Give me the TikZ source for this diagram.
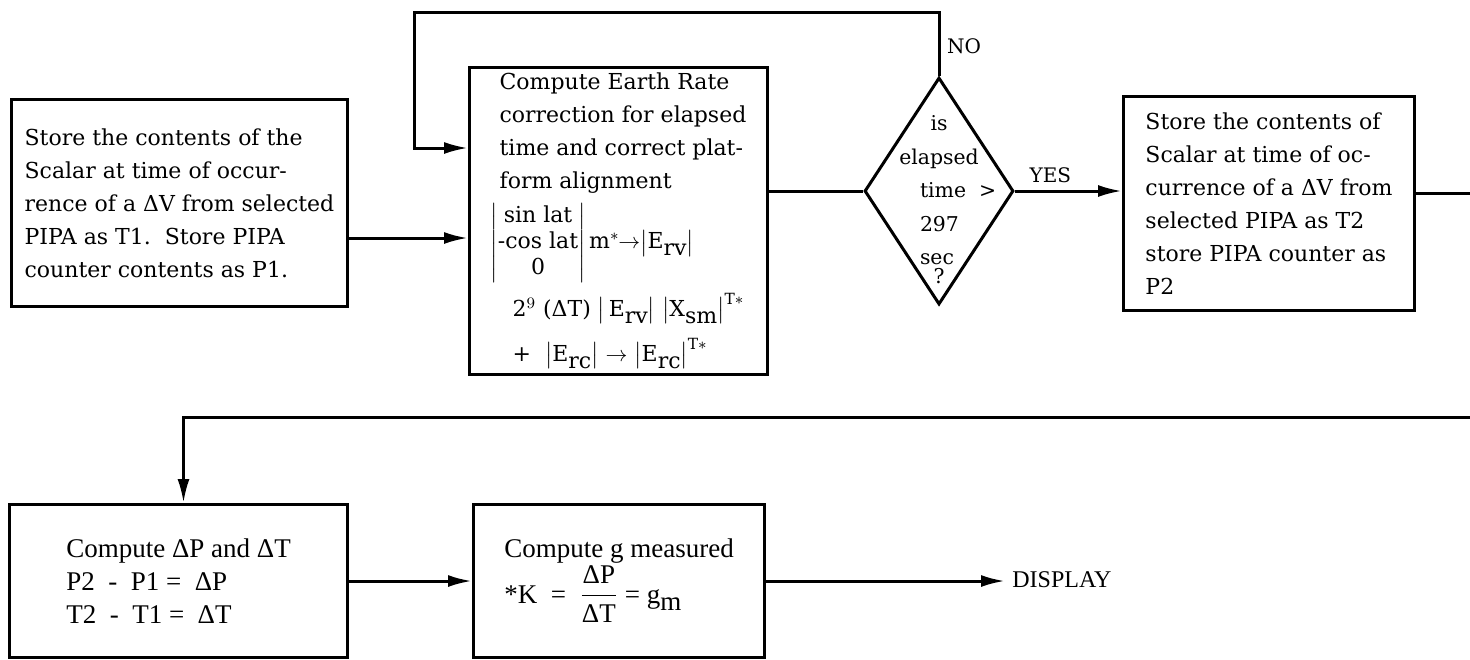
\documentclass[tikz,border=0pt]{standalone}
\usepackage{fontspec}
\usepackage{amsmath}
\setmainfont{DejaVu Serif}
\newfontfamily\lowfont{Liberation Serif}
\usetikzlibrary{arrows.meta,shapes.geometric}
\newcommand{\latColumn}{\left|{\renewcommand{\arraystretch}{0.8}\begin{array}{@{}c@{}}\text{sin lat}\\ \text{-cos lat}\\ \text{0}\end{array}}\right|}
\newcommand{\lowSub}[1]{\raisebox{-0.6ex}{#1}}
\newcommand{\barVec}[1]{$\left|\text{#1}\right|$}
\newcommand{\barVecT}[1]{$\left|\text{#1}\right|^{\mathrm{T}*}$}

\begin{document}
\begin{tikzpicture}[x=0.5pt,y=-0.5pt,
  flow/.style={line width=1.5pt},
  flowarrow/.style={flow,-{Latex[length=12pt,width=6pt]}},
  topbox/.style={draw,line width=1.5pt,anchor=north west,align=left,inner sep=0pt,
    font=\fontsize{11}{16.5}\selectfont},
  lowbox/.style={draw,line width=1.5pt,anchor=north west,align=left,inner sep=0pt,
    font=\lowfont\fontsize{13.5}{16.5}\selectfont},
  lbl/.style={font=\fontsize{10}{12}\selectfont}]
\useasboundingbox (0,0) rectangle (1470,659);

\node[topbox, minimum width=168pt, minimum height=103.5pt] (A) at (10,98)
  {Store the contents of the\\
   Scalar at time of occur-\\
   rence of a ΔV from selected\\
   PIPA as T1.\ \ Store PIPA\\
   counter contents as P1.};

\node[topbox, minimum width=149pt, minimum height=153.5pt] (B) at (468,66)
  {\hspace*{4.5pt}Compute Earth Rate\\
   \hspace*{4.5pt}correction for elapsed\\
   \hspace*{4.5pt}time and correct plat-\\
   \hspace*{4.5pt}form alignment\\[4pt]
   $\latColumn$\,m$^{*}\!\!\rightarrow$\barVec{E\lowSub{rv}}\\[4pt]
   \hspace*{11pt}2$^{9}$ (ΔT)\ \barVec{\,E\lowSub{rv}}\ \barVecT{X\lowSub{sm}}\\[6pt]
   \hspace*{11pt}+\ \ \barVec{E\lowSub{rc}} $\rightarrow$ \barVecT{E\lowSub{rc}}};

\node[draw, line width=1.5pt, diamond, inner sep=0pt, minimum width=74.5pt, minimum height=113.5pt] (dec) at (939,191) {};
\node[lbl, align=center, font=\fontsize{10.2}{16.75}\selectfont] (dectext) at (939,200)
  {is\\ elapsed\\ \makebox[19pt][l]{time\ \ >}\\ \makebox[19pt][l]{297}\\ \makebox[19pt][l]{sec}\\[-7.25pt] ?};

\node[topbox, minimum width=145.5pt, minimum height=107pt] (C) at (1122,95)
  {Store the contents of\\
   Scalar at time of oc-\\
   currence of a ΔV from\\
   selected PIPA as T2\\
   store PIPA counter as\\
   P2};

\node[lowbox, minimum width=169pt, minimum height=76.5pt] (D) at (8,503)
  {Compute ΔP and ΔT\\
   P2\ \ -\ \ P1 = \ ΔP\\
   T2\ \ -\ \ T1 = \ ΔT};

\node[lowbox, minimum width=145.5pt, minimum height=76.5pt] (E) at (472,503)
  {Compute g measured\\
   *K\ \ =\ \ $\dfrac{\text{ΔP}}{\text{ΔT}}$ = g\lowSub{m}};

\node[anchor=west, inner sep=3.5pt, font=\lowfont\fontsize{12}{14}\selectfont] (disp) at (1005,580) {DISPLAY};

\coordinate (loopc) at (414,12);
\coordinate (outR) at (1470,193);
\coordinate (inR) at (1470,417);

\draw[flowarrow] (A.east |- 0,238) -- (B.west |- 0,238);
\draw[flowarrow] (dec.north) -- node[lbl,right,pos=0.47]{NO} (dec.north |- loopc) -- (loopc) |- (B.west |- 0,148);
\draw[flow] (B.east |- dec.west) -- (dec.west);
\draw[flowarrow] (dec.east) -- node[lbl,above,pos=0.33]{YES} (C.west |- dec.east);
\draw[flow] (C.east |- outR) -- (outR);
\draw[flowarrow] (inR) -| ([xshift=2.5pt]D.north);
\draw[flowarrow] (D.east) -- (E.west);
\draw[flowarrow] (E.east) -- (E.east -| disp.west);
\end{tikzpicture}
\end{document}
